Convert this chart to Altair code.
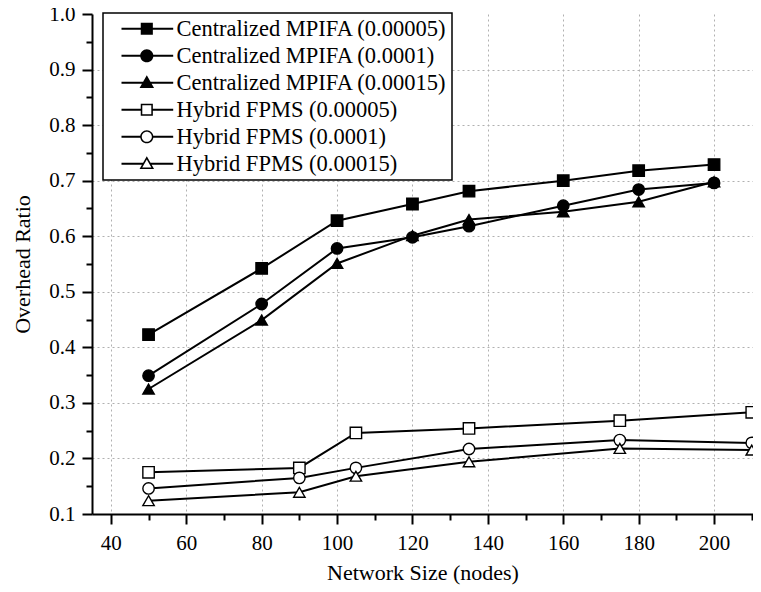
import altair as alt
import pandas as pd

series_names = [
    "Centralized MPIFA (0.00005)",
    "Centralized MPIFA (0.0001)",
    "Centralized MPIFA (0.00015)",
    "Hybrid FPMS (0.00005)",
    "Hybrid FPMS (0.0001)",
    "Hybrid FPMS (0.00015)",
]

cent_x = [50, 80, 100, 120, 135, 160, 180, 200]
cent_00005 = [0.423, 0.542, 0.628, 0.658, 0.681, 0.700, 0.718, 0.729]
cent_0001 = [0.349, 0.478, 0.578, 0.598, 0.618, 0.655, 0.684, 0.696]
cent_00015 = [0.325, 0.449, 0.551, 0.601, 0.630, 0.644, 0.662, 0.698]

hyb_x = [50, 90, 105, 135, 175, 210]
hyb_00005 = [0.175, 0.183, 0.246, 0.254, 0.268, 0.283]
hyb_0001 = [0.146, 0.165, 0.183, 0.217, 0.233, 0.228]
hyb_00015 = [0.124, 0.139, 0.168, 0.194, 0.218, 0.215]

x_tick_values = [40, 50, 60, 70, 80, 90, 100, 110, 120, 130, 140, 150, 160, 170, 180, 190, 200, 210]
y_tick_values = [0.1, 0.15, 0.2, 0.25, 0.3, 0.35, 0.4, 0.45, 0.5, 0.55, 0.6, 0.65,
                 0.7, 0.75, 0.8, 0.85, 0.9, 0.95, 1.0]

marker_shapes = ["square", "circle", "triangle-up", "square", "circle", "triangle-up"]
marker_fills = ["black", "black", "black", "white", "white", "white"]


# ---- legend symbol glyphs (filled outlines only): line stub + marker ----
CX = 2.55   # marker centre, symbol units (1 unit = 11 px)
T = 0.095   # half thickness of the line stub
X0, X1 = 0.25, 4.95


def _stub(x0, x1):
    return f"M{x0:.3f},{-T:.3f}H{x1:.3f}V{T:.3f}H{x0:.3f}Z"


def _sq_cw(h):
    return f"M{CX - h:.3f},{-h:.3f}H{CX + h:.3f}V{h:.3f}H{CX - h:.3f}Z"


def _sq_ccw(h):
    return f"M{CX - h:.3f},{-h:.3f}V{h:.3f}H{CX + h:.3f}V{-h:.3f}Z"


def _ci(r, sweep):
    return (f"M{CX - r:.3f},0A{r:.3f},{r:.3f} 0 1,{sweep} {CX + r:.3f},0"
            f"A{r:.3f},{r:.3f} 0 1,{sweep} {CX - r:.3f},0Z")


def _tri_pts(k):
    cy = 0.093
    pts = [(0.0, -0.62), (0.61, 0.45), (-0.61, 0.45)]
    return [(CX + k * px, cy + k * (py - cy)) for px, py in pts]


def _tri_cw(k):
    a, b, c = _tri_pts(k)
    return f"M{a[0]:.3f},{a[1]:.3f}L{b[0]:.3f},{b[1]:.3f}L{c[0]:.3f},{c[1]:.3f}Z"


def _tri_ccw(k):
    a, b, c = _tri_pts(k)
    return f"M{a[0]:.3f},{a[1]:.3f}L{c[0]:.3f},{c[1]:.3f}L{b[0]:.3f},{b[1]:.3f}Z"


SQ, CI, TK = 0.55, 0.6, 1.08
stubs_sq = _stub(X0, CX - SQ) + _stub(CX + SQ, X1)
stubs_ci = _stub(X0, CX - CI + 0.02) + _stub(CX + CI - 0.02, X1)
stubs_tr = _stub(X0, CX - 0.3) + _stub(CX + 0.3, X1)

legend_paths = [
    stubs_sq + _sq_cw(SQ),
    stubs_ci + _ci(CI, 1),
    stubs_tr + _tri_cw(TK),
    stubs_sq + _sq_cw(SQ) + _sq_ccw(SQ - 0.14),
    stubs_ci + _ci(CI, 1) + _ci(CI - 0.14, 0),
    stubs_tr + _tri_cw(TK) + _tri_ccw(0.68),
]

rows = []
for name, xs, ys in [
    (series_names[0], cent_x, cent_00005),
    (series_names[1], cent_x, cent_0001),
    (series_names[2], cent_x, cent_00015),
    (series_names[3], hyb_x, hyb_00005),
    (series_names[4], hyb_x, hyb_0001),
    (series_names[5], hyb_x, hyb_00015),
]:
    for xv, yv in zip(xs, ys):
        rows.append({"size": xv, "ratio": yv, "series": name})
df = pd.DataFrame(rows)

FONT = "Liberation Serif"

x_enc = alt.X(
    "size:Q",
    scale=alt.Scale(domain=[35, 210.33], nice=False, zero=False),
    axis=alt.Axis(
        title="Network Size (nodes)",
        values=x_tick_values,
        labelExpr="datum.value % 20 === 0 ? datum.label : ''",
        tickSize={"condition": {"test": "datum.value % 20 === 0", "value": 10}, "value": 6},
        gridOpacity={"condition": {"test": "datum.value % 20 === 0 && datum.value <= 200", "value": 1}, "value": 0},
        labelPadding=8,
        titlePadding=9,
    ),
)
y_enc = alt.Y(
    "ratio:Q",
    scale=alt.Scale(domain=[0.1, 1.0], nice=False, zero=False),
    axis=alt.Axis(
        title="Overhead Ratio",
        values=y_tick_values,
        labelExpr="round(datum.value*100) % 10 === 0 ? format(datum.value, '.1f') : ''",
        tickSize={"condition": {"test": "round(datum.value*100) % 10 === 0", "value": 10}, "value": 6},
        gridOpacity={"condition": {"test": "round(datum.value*100) % 10 === 0 && datum.value > 0.15 && datum.value < 0.95", "value": 1}, "value": 0},
        labelPadding=7,
        titlePadding=14,
    ),
)

base = alt.Chart(df)

lines = base.mark_line(color="black", strokeWidth=2).encode(
    x=x_enc, y=y_enc, detail="series:N", order="size:Q"
)

points = base.mark_point(filled=False, stroke="black", strokeWidth=1.4, size=130, opacity=1).encode(
    x=x_enc,
    y=y_enc,
    shape=alt.Shape("series:N", scale=alt.Scale(domain=series_names, range=marker_shapes), legend=None),
    fill=alt.Fill("series:N", scale=alt.Scale(domain=series_names, range=marker_fills), legend=None),
)

legend_layer = base.transform_filter("false").mark_point(filled=True, opacity=1).encode(
    x=x_enc,
    y=y_enc,
    shape=alt.Shape(
        "series:N",
        scale=alt.Scale(domain=series_names, range=legend_paths),
        legend=alt.Legend(
            title=None,
            orient="none",
            legendX=11,
            legendY=-1,
            padding=4.5,
            rowPadding=4,
            symbolSize=484,
            symbolStrokeWidth=0,
            symbolOpacity=1,
            labelOffset=46.5,
            labelFont=FONT,
            labelFontSize=22.5,
            labelColor="black",
            labelLimit=400,
            strokeColor="black",
            fillColor="white",
        ),
    ),
    color=alt.Color("series:N", scale=alt.Scale(domain=series_names, range=["black"] * 6)),
)

chart = (
    alt.layer(lines, points, legend_layer)
    .resolve_scale(shape="independent", fill="independent")
    .properties(
        width=661,
        height=500,
        autosize=alt.AutoSizeParams(type="none"),
        padding={"left": 84, "top": 6, "right": 0, "bottom": 72},
        background="white",
    )
    .configure_view(stroke=None)
    .configure_axis(
        labelFont=FONT,
        labelFontSize=21,
        labelColor="black",
        titleFont=FONT,
        titleFontSize=22,
        titleFontWeight="normal",
        titleColor="black",
        domainColor="black",
        domainWidth=2,
        tickColor="black",
        tickWidth=2,
        gridColor="#b0b0b0",
        gridDash=[2, 3],
        gridWidth=1,
    )
    .configure_legend(strokeWidth=1.5)
)

chart.save("out.html", embed_options={"renderer": "svg", "actions": False})
